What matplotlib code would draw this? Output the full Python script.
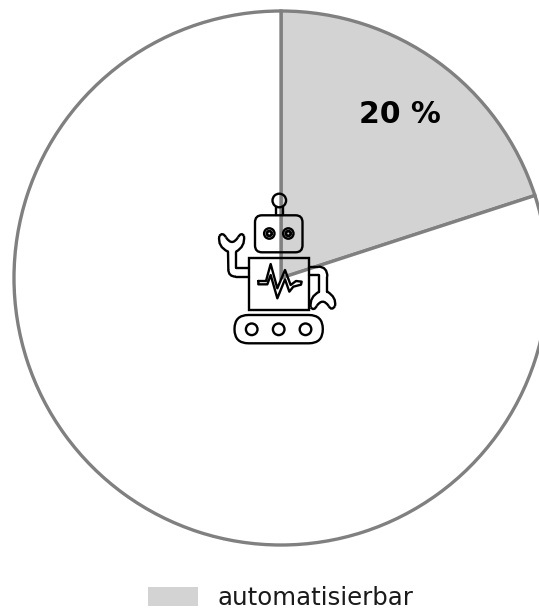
import matplotlib
matplotlib.use("Agg")
import matplotlib.pyplot as plt
from matplotlib.patches import Circle, FancyBboxPatch, Patch, Rectangle, PathPatch
from matplotlib.path import Path

labels = ["automatisierbar", ""]
values = [20, 80]
colors = ["#d3d3d3", "#ffffff"]
EDGE = "#808080"
W, H = 539, 612

fig = plt.figure(figsize=(W / 100, H / 100), dpi=100, facecolor="white")
ax = fig.add_axes([0, 0, 1, 1])
ax.set_xlim(0, W)
ax.set_ylim(0, H)
ax.axis("off")

wedges, _, autotexts = ax.pie(
    values, colors=colors, startangle=90, counterclock=False,
    center=(281, H - 278), radius=267, frame=False,
    wedgeprops=dict(edgecolor=EDGE, linewidth=2.4),
    autopct=lambda p: f"{p:.0f} %" if p < 50 else "", pctdistance=0.757,
    textprops=dict(fontsize=21.5, fontweight="bold", color="black"),
)
ax.set_xlim(0, W)
ax.set_ylim(0, H)
ax.set_aspect("equal")

ax.legend(handles=[Patch(facecolor=colors[0], edgecolor="none", label=labels[0])],
          loc="lower left", bbox_to_anchor=(147.5 / W, 2 / H), borderaxespad=0, borderpad=0,
          frameon=False, fontsize=17.6, handlelength=2.05, handleheight=0.8, handletextpad=0.82,
          labelcolor="#1a1a1a")

# Robot icon overlay, in picture pixels
ov = fig.add_axes([0, 0, 1, 1])
ov.set_xlim(0, W)
ov.set_ylim(H, 0)
ov.axis("off")
ov.patch.set_alpha(0)
LW = 1.7
ST = dict(fc="none", ec="black", lw=LW)


def z(pts):
    return [(200 + a / 3, 180 + b / 3) for a, b in pts]


def line(pts, closed=False):
    q = z(pts)
    if closed:
        q = q + [q[0]]
    ov.plot(*zip(*q), color="black", lw=LW, solid_joinstyle="round", solid_capstyle="round")


def curve(pts):
    q = z(pts)
    codes = [Path.MOVETO] + [Path.CURVE3] * (len(q) - 1)
    ov.add_patch(PathPatch(Path(q, codes), **ST))


# antenna and head
ov.add_patch(Circle((279.3, 200.5), 6.8, **ST))
line([(229, 82), (229, 105)])
line([(248, 82), (248, 105)])
ov.add_patch(FancyBboxPatch((255, 215.3), 47.5, 37, boxstyle="round,pad=0,rounding_size=7", **ST))
for ex in (269.3, 288.3):
    ov.add_patch(Circle((ex, 233.5), 5.2, **ST))
    ov.add_patch(Circle((ex, 233.5), 2.4, fc="none", ec="black", lw=2.0))
# body
ov.add_patch(Rectangle((249.3, 257.8), 59.7, 52.2, **ST))
# ECG trace
line([(175, 303), (198, 303), (212, 252), (232, 325), (255, 270), (272, 315), (288, 303), (305, 305),
      (303, 314), (280, 320), (268, 335), (255, 298), (232, 355), (212, 285), (202, 313), (175, 313)], closed=True)
# left arm with wrench
line([(148, 290), (108, 290)])
curve([(108, 290), (85, 290), (85, 268)])
line([(85, 268), (84, 215)])
line([(148, 265), (108, 265), (108, 215)])
curve([(84, 215), (52, 200), (58, 168)])
curve([(58, 168), (68, 155), (78, 172)])
curve([(78, 172), (96, 200), (114, 172)])
curve([(114, 172), (124, 155), (132, 168)])
curve([(132, 168), (136, 200), (108, 215)])
# right arm with wrench
line([(327, 260), (355, 260)])
curve([(355, 260), (382, 260), (382, 290)])
line([(382, 290), (382, 335)])
line([(327, 285), (358, 285), (358, 335)])
curve([(358, 335), (328, 350), (332, 382)])
curve([(332, 382), (342, 394), (350, 378)])
curve([(350, 378), (368, 352), (386, 378)])
curve([(386, 378), (395, 394), (405, 378)])
curve([(405, 378), (410, 352), (382, 335)])
# track and wheels
ov.add_patch(FancyBboxPatch((234.5, 315), 88.3, 28.3, boxstyle="round,pad=0,rounding_size=14", **ST))
for wx in (251.7, 278.7, 305.5):
    ov.add_patch(Circle((wx, 329.3), 5.8, **ST))

fig.savefig("out.png", dpi=100, facecolor="white")
